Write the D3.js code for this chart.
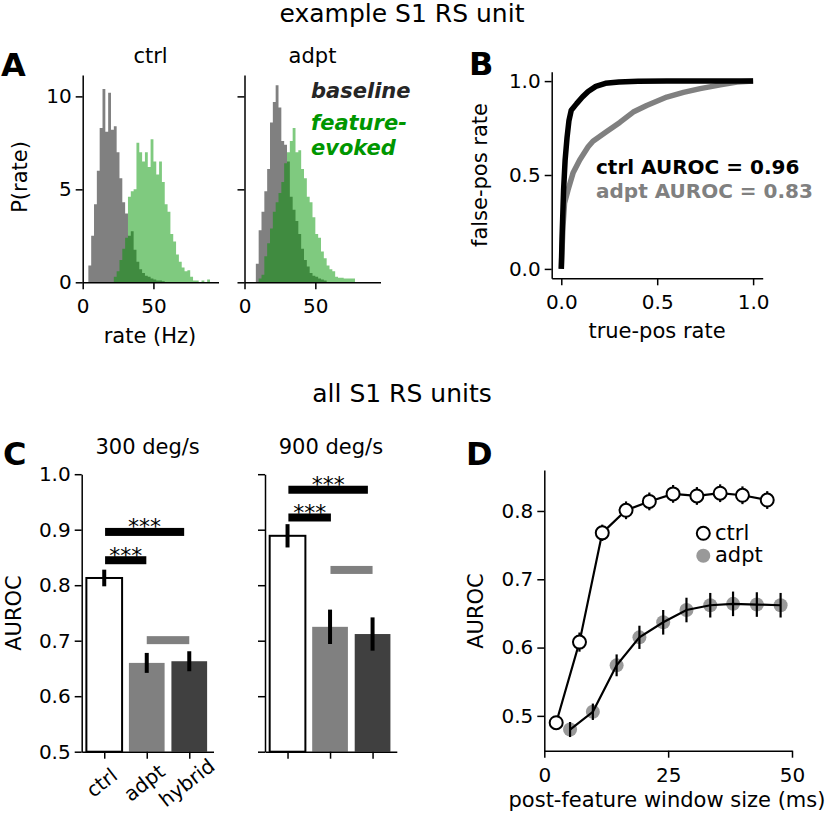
<!DOCTYPE html>
<html>
<head>
<meta charset="utf-8">
<script src="https://cdn.jsdelivr.net/npm/d3@7"></script>
<style>
    body { margin: 0; background: #fff; }
    text { font-family: "DejaVu Sans", sans-serif; }
</style>
</head>
<body>
<svg id="fig" width="828" height="816"></svg>
<script>
// ---- data ----
// A: rate histograms, 2 Hz bins starting at 0 Hz
var binWidth = 2;
var ctrlBaseline = [0, 0, 0.9, 2.5, 4.2, 6.0, 8.3, 10.4, 8.1, 10.2, 8.2, 8.4, 7.0, 5.6, 4.3, 3.7,
    2.5, 2.75, 1.75, 1.1, 0.7, 0.5, 0.35, 0.3, 0.2, 0.15, 0.1, 0.1, 0.05];
var ctrlEvoked = [0, 0, 0, 0, 0, 0, 0, 0, 0, 0, 0, 0.3, 0.6, 1.2, 1.8, 2.4, 4.6, 4.9, 5.0, 7.5,
    7.0, 6.5, 7.0, 6.2, 7.7, 6.5, 5.8, 6.5, 5.4, 4.2, 3.8, 2.6, 2.2, 1.5, 1.1, 0.8, 0.6, 0.65,
    0.3, 0.1, 0.1, 0, 0.1, 0, 0.15];
var adptBaseline = [0, 0, 0, 0, 1.0, 2.8, 3.8, 4.9, 6.1, 8.6, 9.7, 10.6, 9.4, 7.6, 7.4, 6.5,
    4.6, 3.9, 3.3, 2.6, 1.8, 1.2, 0.85, 0.5, 0.35, 0.3, 0.2, 0.15, 0.1];
var adptEvoked = [0, 0, 0, 0, 0, 0.2, 0.4, 1.4, 2.1, 2.9, 3.8, 4.3, 4.8, 5.4, 6.4, 7.0, 7.6,
    8.3, 7.0, 7.1, 6.1, 5.6, 4.6, 4.3, 3.5, 2.6, 2.4, 1.65, 1.3, 0.9, 0.7, 0.6, 0.3, 0.25,
    0.25, 0.2, 0.2, 0.2, 0.2];

// B: ROC curves
var rocCtrlX = [0, 0.005, 0.012, 0.02, 0.03, 0.04, 0.052, 0.08, 0.11, 0.14, 0.18, 0.23, 0.3, 0.4, 0.55, 1.0];
var rocCtrlY = [0, 0.2, 0.42, 0.58, 0.7, 0.79, 0.845, 0.88, 0.915, 0.945, 0.972, 0.988, 0.995, 0.999, 1.0, 1.0];
var rocAdptX = [0, 0.009, 0.017, 0.035, 0.061, 0.096, 0.14, 0.165, 0.235, 0.305, 0.375, 0.445, 0.55, 0.637, 0.724, 0.829, 0.916, 1.0];
var rocAdptY = [0, 0.23, 0.35, 0.42, 0.51, 0.58, 0.65, 0.68, 0.73, 0.78, 0.835, 0.87, 0.915, 0.94, 0.96, 0.98, 0.995, 1.0];

// C: AUROC by condition
var conditions = ["ctrl", "adpt", "hybrid"];
var barColors = ["#ffffff", "#808080", "#404040"];
var auroc300 = [0.813, 0.660, 0.663];
var err300 = [0.015, 0.018, 0.018];
var auroc900 = [0.889, 0.725, 0.712];
var err900 = [0.021, 0.031, 0.030];
// significance bars: [from, to, level, starred]
var sig300 = [[0.02, 0.99, 0.845, true], [0.02, 1.88, 0.896, true], [1.0, 2.0, 0.701, false]];
var sig900 = [[0.02, 1.02, 0.922, true], [0.02, 1.89, 0.972, true], [1.01, 2.0, 0.8275, false]];

// D: AUROC vs window size
var ctrlWin = [2.4, 7.1, 11.7, 16.5, 21.2, 26.0, 30.8, 35.5, 40.0, 45.0];
var ctrlAuroc = [0.490, 0.608, 0.768, 0.801, 0.814, 0.825, 0.822, 0.826, 0.823, 0.816];
var ctrlErr = [0.005, 0.014, 0.012, 0.013, 0.013, 0.013, 0.013, 0.013, 0.013, 0.013];
var adptWin = [5.2, 9.8, 14.6, 19.2, 24.0, 28.7, 33.5, 38.1, 42.9, 47.7];
var adptAuroc = [0.480, 0.506, 0.574, 0.615, 0.637, 0.655, 0.662, 0.664, 0.663, 0.662];
var adptErr = [0.011, 0.012, 0.016, 0.017, 0.018, 0.018, 0.018, 0.018, 0.018, 0.018];

// ---- drawing ----
var svg = d3.select("#fig");
svg.append("rect").attr("width", 828).attr("height", 816).attr("fill", "#fff");

var green = "#009600";

function styleAxis(g) {
    g.attr("font-size", 20).attr("font-family", "DejaVu Sans");
    g.select(".domain").attr("stroke", "#000").attr("stroke-width", 1.5);
    g.selectAll(".tick line").attr("stroke", "#000").attr("stroke-width", 1.5);
    g.selectAll(".tick text").attr("fill", "#000");
    return g;
}

function leftAxis(scale, xPos, ticks, fmt) {
    var ax = d3.axisLeft(scale).tickValues(ticks).tickSize(7).tickPadding(4).tickSizeOuter(0)
        .tickFormat(fmt);
    return styleAxis(svg.append("g").attr("transform", "translate(" + xPos + ",0)").call(ax));
}

function bottomAxis(scale, yPos, ticks, fmt) {
    var ax = d3.axisBottom(scale).tickValues(ticks).tickSize(7).tickPadding(10).tickSizeOuter(0)
        .tickFormat(fmt);
    return styleAxis(svg.append("g").attr("transform", "translate(0," + yPos + ")").call(ax));
}

function text(x, y, s, size, opts) {
    opts = opts || {};
    var t = svg.append("text").attr("x", x).attr("y", y).text(s)
        .attr("font-size", size)
        .attr("text-anchor", opts.anchor || "middle")
        .attr("fill", opts.fill || "#000");
    if (opts.weight) t.attr("font-weight", opts.weight);
    if (opts.style) t.attr("font-style", opts.style);
    if (opts.rotate) t.attr("transform", "rotate(-90," + x + "," + y + ")");
    return t;
}

// titles
text(402, 22, "example S1 RS unit", 25);
text(402, 402, "all S1 RS units", 25);

// ---- A ----
function histPoints(h) {
    var pts = h.map(function (v, i) { return [i * binWidth, v]; });
    pts.push([h.length * binWidth, h[h.length - 1]]);
    return pts;
}

function histPanel(x0, x1, base, evoked, labels) {
    var x = d3.scaleLinear().domain([0, 96]).range([x0, x1]);
    var y = d3.scaleLinear().domain([0, 11.15]).range([282.3, 75]);
    var area = d3.area().curve(d3.curveStepAfter)
        .x(function (d) { return x(d[0]); })
        .y0(y(0))
        .y1(function (d) { return y(d[1]); });
    svg.append("path").datum(histPoints(base)).attr("d", area).attr("fill", "#808080");
    svg.append("path").datum(histPoints(evoked)).attr("d", area).attr("fill", green).attr("fill-opacity", 0.5);
    leftAxis(y, x0, [0, 5, 10], labels ? d3.format("d") : function () { return ""; });
    bottomAxis(x, 282.3, [0, 50], d3.format("d"));
}

histPanel(82.7, 218.5, ctrlBaseline, ctrlEvoked, true);
histPanel(244.5, 380.5, adptBaseline, adptEvoked, false);

text(150.5, 63, "ctrl", 21);
text(312.5, 63, "adpt", 21);
text(27, 177, "P(rate)", 21, {rotate: true});
text(150, 343, "rate (Hz)", 21);
text(311, 98, "baseline", 21, {anchor: "start", weight: "bold", style: "italic", fill: "#262626"});
text(311, 130, "feature-", 21, {anchor: "start", weight: "bold", style: "italic", fill: green});
text(311, 155, "evoked", 21, {anchor: "start", weight: "bold", style: "italic", fill: green});
text(1, 76, "A", 32, {anchor: "start", weight: "bold"});

// ---- B ----
var bx = d3.scaleLinear().domain([-0.05, 1.05]).range([551.7, 762.7]);
var by = d3.scaleLinear().domain([-0.05, 1.05]).range([278.3, 71.7]);
var rocLine = d3.line().x(function (d) { return bx(d[0]); }).y(function (d) { return by(d[1]); });

svg.append("path").datum(d3.zip(rocAdptX, rocAdptY)).attr("d", rocLine)
    .attr("fill", "none").attr("stroke", "#808080").attr("stroke-width", 5.5).attr("stroke-linejoin", "round");
svg.append("path").datum(d3.zip(rocCtrlX, rocCtrlY)).attr("d", rocLine)
    .attr("fill", "none").attr("stroke", "#000").attr("stroke-width", 5.5).attr("stroke-linejoin", "round");
leftAxis(by, 551.7, [0, 0.5, 1], d3.format(".1f"));
bottomAxis(bx, 278.3, [0, 0.5, 1], d3.format(".1f"));
text(596, 174, "ctrl AUROC = 0.96", 20, {anchor: "start", weight: "bold"});
text(596, 198, "adpt AUROC = 0.83", 20, {anchor: "start", weight: "bold", fill: "#808080"});
text(487, 175, "false-pos rate", 21, {rotate: true});
text(657, 338, "true-pos rate", 21);
text(469, 75, "B", 32, {anchor: "start", weight: "bold"});

// ---- C ----
var cy = d3.scaleLinear().domain([0.5, 1.0]).range([751.7, 474.2]);

function barPanel(x0, x1, vals, errs, sigs, labels, title) {
    var x = d3.scaleLinear().domain([-0.53, 2.57]).range([x0, x1]);
    var bw = x(0.84) - x(0);
    var g = svg.append("g");
    g.selectAll("rect.bar").data(vals).enter().append("rect")
        .attr("x", function (d, i) { return x(i) - bw / 2; })
        .attr("y", function (d) { return cy(d); })
        .attr("width", bw)
        .attr("height", function (d) { return cy(0.5) - cy(d); })
        .attr("fill", function (d, i) { return barColors[i]; })
        .attr("stroke", function (d, i) { return i === 0 ? "#000" : "none"; })
        .attr("stroke-width", 2);
    g.selectAll("line.err").data(vals).enter().append("line")
        .attr("x1", function (d, i) { return x(i); })
        .attr("x2", function (d, i) { return x(i); })
        .attr("y1", function (d, i) { return cy(d - errs[i]); })
        .attr("y2", function (d, i) { return cy(d + errs[i]); })
        .attr("stroke", "#000").attr("stroke-width", 4);
    sigs.forEach(function (s) {
        g.append("rect")
            .attr("x", x(s[0])).attr("width", x(s[1]) - x(s[0]))
            .attr("y", cy(s[2]) - 4).attr("height", 8)
            .attr("fill", s[3] ? "#000" : "#808080");
        if (s[3]) {
            g.append("text").attr("x", x((s[0] + s[1]) / 2)).attr("y", cy(s[2]) + 2.5)
                .attr("text-anchor", "middle").attr("font-size", 22).text("***");
        }
    });
    leftAxis(cy, x0, [0.5, 0.6, 0.7, 0.8, 0.9, 1.0],
        labels ? d3.format(".1f") : function () { return ""; });
    var ax = bottomAxis(x, 751.7, [0, 1, 2], function (d) { return labels ? conditions[d] : ""; });
    ax.selectAll(".tick text")
        .attr("y", null).attr("dy", "0.35em")
        .attr("text-anchor", "middle")
        .attr("transform", "translate(-3,31) rotate(-38)");
    text((x0 + x1) / 2, 454, title, 21);
}

barPanel(81.7, 213.5, auroc300, err300, sig300, true, "300 deg/s");
barPanel(265, 396.8, auroc900, err900, sig900, false, "900 deg/s");
text(21, 613, "AUROC", 21, {rotate: true});
text(3, 465, "C", 32, {anchor: "start", weight: "bold"});

// ---- D ----
var dx = d3.scaleLinear().domain([0, 50]).range([544.3, 792]);
var dy = d3.scaleLinear().domain([0.449, 0.86]).range([750.7, 470]);
var dLine = d3.line().x(function (d) { return dx(d[0]); }).y(function (d) { return dy(d[1]); });

function errBars(xs, ys, es) {
    svg.append("g").selectAll("line").data(xs).enter().append("line")
        .attr("x1", function (d) { return dx(d); })
        .attr("x2", function (d) { return dx(d); })
        .attr("y1", function (d, i) { return dy(ys[i] - es[i]); })
        .attr("y2", function (d, i) { return dy(ys[i] + es[i]); })
        .attr("stroke", "#000").attr("stroke-width", 2.2);
}

svg.append("g").selectAll("circle").data(adptWin).enter().append("circle")
    .attr("cx", function (d) { return dx(d); })
    .attr("cy", function (d, i) { return dy(adptAuroc[i]); })
    .attr("r", 7).attr("fill", "#999999");
svg.append("path").datum(d3.zip(adptWin, adptAuroc)).attr("d", dLine)
    .attr("fill", "none").attr("stroke", "#000").attr("stroke-width", 2.2);
errBars(adptWin, adptAuroc, adptErr);

svg.append("path").datum(d3.zip(ctrlWin, ctrlAuroc)).attr("d", dLine)
    .attr("fill", "none").attr("stroke", "#000").attr("stroke-width", 2.2);
errBars(ctrlWin, ctrlAuroc, ctrlErr);
svg.append("g").selectAll("circle").data(ctrlWin).enter().append("circle")
    .attr("cx", function (d) { return dx(d); })
    .attr("cy", function (d, i) { return dy(ctrlAuroc[i]); })
    .attr("r", 6.5).attr("fill", "#fff").attr("stroke", "#000").attr("stroke-width", 2);

leftAxis(dy, 544.3, [0.5, 0.6, 0.7, 0.8], d3.format(".1f"));
bottomAxis(dx, 750.7, [0, 25, 50], d3.format("d"));

// legend
svg.append("circle").attr("cx", 703.3).attr("cy", 533.3).attr("r", 6.5)
    .attr("fill", "#fff").attr("stroke", "#000").attr("stroke-width", 2);
svg.append("circle").attr("cx", 703.3).attr("cy", 555.7).attr("r", 7).attr("fill", "#999999");
text(715, 540, "ctrl", 21, {anchor: "start"});
text(715, 562, "adpt", 21, {anchor: "start"});

text(483, 611, "AUROC", 21, {rotate: true});
text(667, 807, "post-feature window size (ms)", 21);
text(466, 465, "D", 32, {anchor: "start", weight: "bold"});
</script>
</body>
</html>
